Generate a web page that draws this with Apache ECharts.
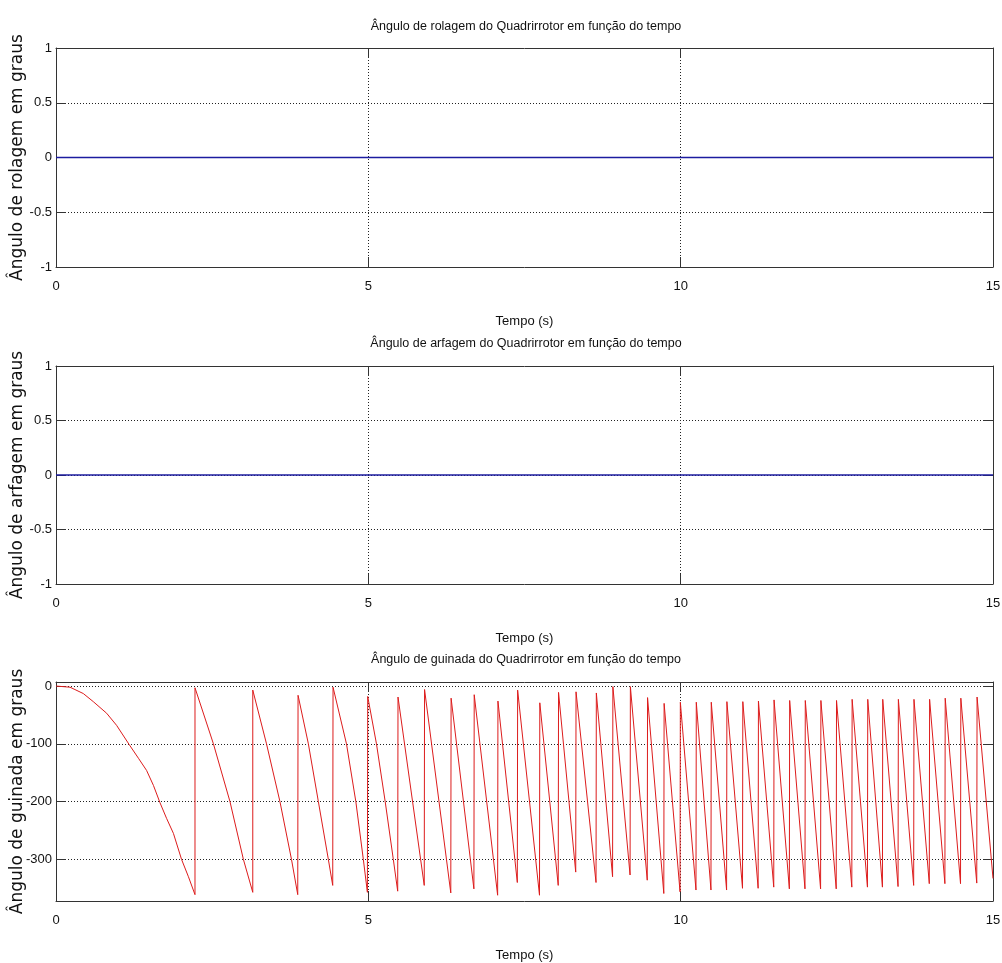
<!DOCTYPE html>
<html>
<head>
<meta charset="utf-8">
<script src="https://cdn.jsdelivr.net/npm/echarts@6/dist/echarts.min.js"></script>
<style>
html,body{margin:0;padding:0;background:#fff;}
#c{width:1002px;height:963px;}
</style>
</head>
<body>
<div id="c"></div>
<script>
// ---- data ----
const titles = [
  'Ângulo de rolagem do Quadrirrotor em função do tempo',
  'Ângulo de arfagem do Quadrirrotor em função do tempo',
  'Ângulo de guinada do Quadrirrotor em função do tempo'
];
const yNames = ['Ângulo de rolagem em graus', 'Ângulo de arfagem em graus', 'Ângulo de guinada em graus'];
const xName = 'Tempo (s)';
const xTicks = [0, 5, 10, 15];

const rollTime = [0, 15];
const rollAngle = [0, 0];
const pitchTime = [0, 15];
const pitchAngle = [0, 0];

const yawTime = [
  0, 0.224, 0.437, 0.597, 0.81, 0.97, 1.17, 1.32, 1.45, 1.56, 1.665, 1.77, 1.88, 2.01, 2.12, 2.225,
  2.225, 2.52, 2.785, 3.0, 3.15,
  3.15, 3.37, 3.585, 3.77, 3.87,
  3.875, 4.04, 4.2, 4.36, 4.43,
  4.435, 4.65, 4.8, 4.92, 4.985,
  4.99, 5.13, 5.27, 5.4, 5.47,
  5.475, 5.895,
  5.9, 6.32,
  6.325, 6.69,
  6.695, 7.07,
  7.075, 7.385,
  7.39, 7.74,
  7.745, 8.04,
  8.045, 8.32,
  8.325, 8.645,
  8.65, 8.91,
  8.915, 9.19,
  9.195, 9.465,
  9.47, 9.73,
  9.735, 9.99,
  9.995, 10.245,
  10.25, 10.485,
  10.49, 10.735,
  10.74, 10.99,
  10.995, 11.24,
  11.245, 11.49,
  11.495, 11.74,
  11.745, 11.99,
  11.995, 12.24,
  12.245, 12.49,
  12.495, 12.74,
  12.745, 12.99,
  12.995, 13.23,
  13.235, 13.48,
  13.485, 13.73,
  13.735, 13.98,
  13.985, 14.23,
  14.235, 14.48,
  14.485, 14.74,
  14.745, 15.0
];
const yawAngle = [
  0, -2, -13, -27, -47, -68, -101, -125, -146, -172, -202, -229, -255, -300, -330, -361,
  -3, -100, -200, -300, -357,
  -7, -100, -200, -300, -361,
  -16, -100, -200, -300, -345,
  -2, -100, -200, -300, -357,
  -18, -100, -200, -300, -355,
  -19, -345,
  -6, -358,
  -21, -351,
  -15, -362,
  -26, -340,
  -7, -362,
  -29, -345,
  -11, -322,
  -10, -340,
  -12, -330,
  -1, -327,
  -1, -336,
  -20, -359,
  -30, -356,
  -28, -353,
  -28, -353,
  -28, -353,
  -27, -350,
  -27, -350,
  -26, -348,
  -24, -351,
  -25, -351,
  -25, -351,
  -25, -351,
  -25, -348,
  -23, -348,
  -23, -348,
  -23, -347,
  -23, -345,
  -23, -342,
  -23, -342,
  -21, -342,
  -21, -341,
  -19, -333
];

// ---- chart ----
const narrow = '"Liberation Sans", Arial, sans-serif';
const wide = '"DejaVu Sans", sans-serif';
const ink = '#111';
const axisCol = '#333';

const grids = [
  {left: 56, top: 48, width: 937, height: 219, containLabel: false, outerBoundsMode: 'none'},
  {left: 56, top: 366, width: 937, height: 218, containLabel: false, outerBoundsMode: 'none'},
  {left: 56, top: 682, width: 937, height: 219, containLabel: false, outerBoundsMode: 'none'}
];
const yRanges = [
  {min: -1, max: 1, interval: 0.5},
  {min: -1, max: 1, interval: 0.5},
  {min: -372, max: 7, splitNumber: 4}
];

function zip(a, b){ return a.map((v, i) => [v, b[i]]); }

const xAxes = [], yAxes = [];
grids.forEach((g, i) => {
  const tick = {show: true, inside: true, length: 10, lineStyle: {color: axisCol, width: 1}};
  const line = {show: true, onZero: false, lineStyle: {color: axisCol, width: 1}};
  const grid = {show: true, showMinLine: false, showMaxLine: false, lineStyle: {color: '#222', width: 1, type: [1, 2]}};
  xAxes.push({
    type: 'value', gridIndex: i, position: 'bottom', min: xTicks[0], max: xTicks[xTicks.length-1], interval: 5,
    axisLine: line, axisTick: tick,
    axisLabel: {show: true, margin: 13, color: ink, fontFamily: narrow, fontSize: 13},
    splitLine: grid,
    name: xName, nameLocation: 'middle', nameGap: 48, nameMoveOverlap: false,
    nameTextStyle: {color: ink, fontFamily: narrow, fontSize: 13}
  });
  xAxes.push({
    type: 'value', gridIndex: i, position: 'top', min: xTicks[0], max: xTicks[xTicks.length-1], interval: 5,
    axisLine: line, axisTick: tick, axisLabel: {show: false}, splitLine: {show: false}
  });
  const r = yRanges[i];
  yAxes.push(Object.assign({
    type: 'value', gridIndex: i, position: 'left',
    axisLine: line, axisTick: tick,
    axisLabel: {show: true, margin: 4, color: ink, fontFamily: narrow, fontSize: 13, showMinLabel: i < 2, showMaxLabel: i < 2},
    splitLine: grid,
    name: yNames[i], nameLocation: 'middle', nameGap: 30, nameMoveOverlap: false,
    nameTextStyle: {color: ink, fontFamily: wide, fontSize: 17}
  }, r));
  yAxes.push(Object.assign({
    type: 'value', gridIndex: i, position: 'right',
    axisLine: line, axisTick: tick, axisLabel: {show: false}, splitLine: {show: false}
  }, r));
});

const titleTops = [20, 337, 653];
const option = {
  animation: false,
  backgroundColor: '#fff',
  title: titles.map((t, i) => ({
    text: t, left: 526, top: titleTops[i], textAlign: 'center', padding: 0,
    textStyle: {color: ink, fontFamily: narrow, fontSize: 12.5, fontWeight: 'normal'}
  })),
  grid: grids,
  xAxis: xAxes,
  yAxis: yAxes,
  series: [
    {type: 'line', xAxisIndex: 0, yAxisIndex: 0, data: zip(rollTime, rollAngle), showSymbol: false,
     lineStyle: {color: '#1c1ca0', width: 1.3}, z: 5},
    {type: 'line', xAxisIndex: 2, yAxisIndex: 2, data: zip(pitchTime, pitchAngle), showSymbol: false,
     lineStyle: {color: '#1c1ca0', width: 1.3}, z: 5},
    {type: 'line', xAxisIndex: 4, yAxisIndex: 4, data: zip(yawTime, yawAngle), showSymbol: false,
     lineStyle: {color: '#dd1c1c', width: 1}, z: 5}
  ]
};
const chart = echarts.init(document.getElementById('c'), null, {renderer: 'canvas'});
chart.setOption(option);
</script>
</body>
</html>
